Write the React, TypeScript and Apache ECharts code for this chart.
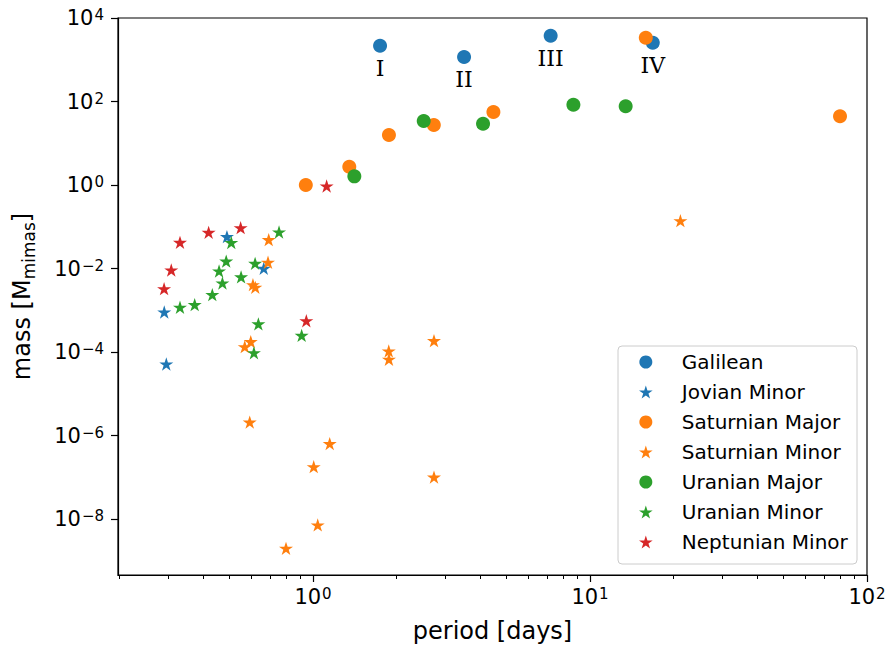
import React, { useEffect, useRef } from 'react';
import * as echarts from 'echarts';

// ---- data (period [days], mass [M_mimas]) ----
const galileanNames = ['I', 'II', 'III', 'IV'];
const galileanPeriod = [1.746, 3.51, 7.21, 16.85];
const galileanMass = [2170, 1164, 3767, 2560];

const jovianMinorPeriod = [0.2904, 0.2954, 0.489, 0.664];
const jovianMinorMass = [9.08e-4, 5.16e-5, 0.0578, 0.0101];

const saturnianMajorPeriod = [0.942, 1.352, 1.88, 2.73, 4.48, 15.9, 79.9];
const saturnianMajorMass = [1.0, 2.74, 15.8, 27.4, 56, 3375, 44.2];

const saturnianMinorPeriod = [0.692, 0.688, 0.607, 0.619, 0.567, 0.596, 1.877, 1.88, 2.734, 0.591, 1.149, 1.006, 2.734, 1.04, 0.799, 21.2];
const saturnianMinorMass = [0.049, 0.0141, 0.00409, 0.00355, 1.34e-4, 1.77e-4, 1.06e-4, 6.7e-5, 1.87e-4, 2.1e-6, 6.4e-7, 1.79e-7, 1.01e-7, 7.2e-9, 1.99e-9, 0.1396];

const uranianMajorPeriod = [1.41, 2.51, 4.11, 8.71, 13.45];
const uranianMajorMass = [1.61, 34.1, 29.4, 83.8, 76.7];

const uranianMinorPeriod = [0.331, 0.374, 0.433, 0.458, 0.471, 0.486, 0.507, 0.55, 0.612, 0.618, 0.635, 0.754, 0.91];
const uranianMinorMass = [1.18e-3, 1.36e-3, 2.36e-3, 8.7e-3, 4.5e-3, 0.015, 0.042, 6.3e-3, 9.6e-5, 0.0133, 4.7e-4, 0.075, 2.5e-4];

const neptunianMinorPeriod = [0.29, 0.3078, 0.331, 0.42, 0.548, 1.12, 0.946];
const neptunianMinorMass = [0.00328, 0.0092, 0.0424, 0.0736, 0.0949, 0.946, 5.6e-4];

// ---- axes ----
const xMin = 0.1977;
const xMax = 100;
const yMin = 4.56e-10;
const yMax = 1e4;
const xMajorTicks = [1, 10, 100];
const xMinorTicks = [0.2, 0.3, 0.4, 0.5, 0.6, 0.7, 0.8, 0.9, 2, 3, 4, 5, 6, 7, 8, 9, 20, 30, 40, 50, 60, 70, 80, 90];
const yMajorTicks = [1e-8, 1e-6, 1e-4, 1e-2, 1, 1e2, 1e4];

const seriesNames = ['Galilean', 'Jovian Minor', 'Saturnian Major', 'Saturnian Minor', 'Uranian Major', 'Uranian Minor', 'Neptunian Minor'];
const colors = ['#1f77b4', '#1f77b4', '#ff7f0e', '#ff7f0e', '#2ca02c', '#2ca02c', '#d62728'];

// star symbol path (matplotlib '*')
function starPath(): string {
  const pts: string[] = [];
  const inner = 0.381966;
  for (let k = 0; k < 10; k++) {
    const r = k % 2 === 0 ? 1 : inner;
    const a = (-90 + k * 36) * Math.PI / 180;
    pts.push(`${(r * Math.cos(a)).toFixed(4)},${(r * Math.sin(a)).toFixed(4)}`);
  }
  return 'path://M' + pts.join('L') + 'Z';
}
const STAR = starPath();

function zip(xs: number[], ys: number[]) {
  return xs.map((x, i) => [x, ys[i]]);
}

function powLabel(v: number): string {
  const e = Math.round(Math.log10(v));
  const s = e < 0 ? '\u2212' + (-e) : String(e);
  return `{b|10}{s|${s}}`;
}

const FONT = 'DejaVu Sans';
const tickRich = {
  b: { fontSize: 21, lineHeight: 21, fontFamily: FONT, color: '#000', verticalAlign: 'bottom' },
  s: { fontSize: 15, lineHeight: 15, fontFamily: FONT, color: '#000', verticalAlign: 'top', padding: [0, 0, 9, 1] },
};

export default function App() {
  const ref = useRef<HTMLDivElement>(null);
  useEffect(() => {
    if (!ref.current) return;
    const chart = echarts.init(ref.current, null, { renderer: 'svg' });
    const circle = 14;
    const star = 14;
    const mk = (i: number, xs: number[], ys: number[], isStar: boolean, extra: any = {}) => ({
      type: 'scatter',
      name: seriesNames[i],
      data: zip(xs, ys),
      symbol: isStar ? STAR : 'circle',
      symbolSize: isStar ? star : circle,
      symbolKeepAspect: true,
      itemStyle: { color: colors[i], opacity: 1 },
      emphasis: { disabled: true },
      ...extra,
    });
    const option: any = {
      animation: false,
      textStyle: { fontFamily: FONT },
      grid: { left: 118, right: 26, top: 18, bottom: 78, show: true, borderColor: '#000', borderWidth: 1.2, backgroundColor: 'transparent' },
      xAxis: [
        {
          type: 'log', logBase: 10, min: xMin, max: xMax,
          name: 'period [days]', nameLocation: 'middle', nameGap: 44,
          nameTextStyle: { fontSize: 24, fontFamily: FONT, color: '#000' },
          axisLine: { show: true, lineStyle: { color: '#000', width: 1.2 } },
          axisTick: { show: true, length: 7, lineStyle: { color: '#000', width: 1.2 }, customValues: xMajorTicks },
          axisLabel: { show: true, margin: 11, customValues: xMajorTicks, formatter: powLabel, rich: tickRich },
          splitLine: { show: false }, minorTick: { show: false }, minorSplitLine: { show: false },
        },
        {
          type: 'log', logBase: 10, min: xMin, max: xMax, position: 'bottom', gridIndex: 0,
          axisLine: { show: false },
          axisTick: { show: true, length: 4, lineStyle: { color: '#000', width: 1 }, customValues: xMinorTicks },
          axisLabel: { show: false },
          splitLine: { show: false },
        },
      ],
      yAxis: {
        type: 'log', logBase: 10, min: yMin, max: yMax,
        name: 'mass [M{sub|mimas}]', nameLocation: 'middle', nameGap: 84, nameRotate: 90,
        nameTextStyle: {
          fontSize: 24, fontFamily: FONT, color: '#000',
          rich: {
            sub: { fontSize: 17, fontFamily: FONT, color: '#000', lineHeight: 17, padding: [10, 0, 0, 0], verticalAlign: 'top' },
          },
        },
        axisLine: { show: true, lineStyle: { color: '#000', width: 1.2 } },
        axisTick: { show: true, length: 7, lineStyle: { color: '#000', width: 1.2 }, customValues: yMajorTicks },
        axisLabel: { show: true, margin: 14, customValues: yMajorTicks, formatter: powLabel, rich: tickRich },
        splitLine: { show: false }, minorTick: { show: false },
      },
      legend: {
        show: true, orient: 'vertical', left: 639, top: 352, padding: 0,
        itemWidth: 62, itemHeight: 13, itemGap: 10, symbolKeepAspect: true, selectedMode: false,
        textStyle: { fontSize: 20, lineHeight: 20, fontFamily: FONT, color: '#000' },
        data: seriesNames,
      },
      graphic: [
        {
          type: 'rect', z: 3, silent: true,
          shape: { x: 618, y: 346, width: 239, height: 218, r: 4 },
          style: { fill: 'rgba(255,255,255,0.8)', stroke: '#cccccc', lineWidth: 1 },
        },
      ],
      series: [
        mk(0, galileanPeriod, galileanMass, false, {
          data: galileanPeriod.map((x, i) => ({ value: [x, galileanMass[i]], name: galileanNames[i] })),
          label: { show: true, position: 'bottom', distance: 5, formatter: '{b}', fontFamily: 'DejaVu Serif', fontSize: 22, color: '#000' },
        }),
        mk(1, jovianMinorPeriod, jovianMinorMass, true),
        mk(2, saturnianMajorPeriod, saturnianMajorMass, false),
        mk(3, saturnianMinorPeriod, saturnianMinorMass, true),
        mk(4, uranianMajorPeriod, uranianMajorMass, false),
        mk(5, uranianMinorPeriod, uranianMinorMass, true),
        mk(6, neptunianMinorPeriod, neptunianMinorMass, true),
      ],
    };
    chart.setOption(option);
    return () => chart.dispose();
  }, []);
  return <div ref={ref} style={{ position: 'absolute', left: 0, top: 0, width: 893, height: 653 }} />;
}
